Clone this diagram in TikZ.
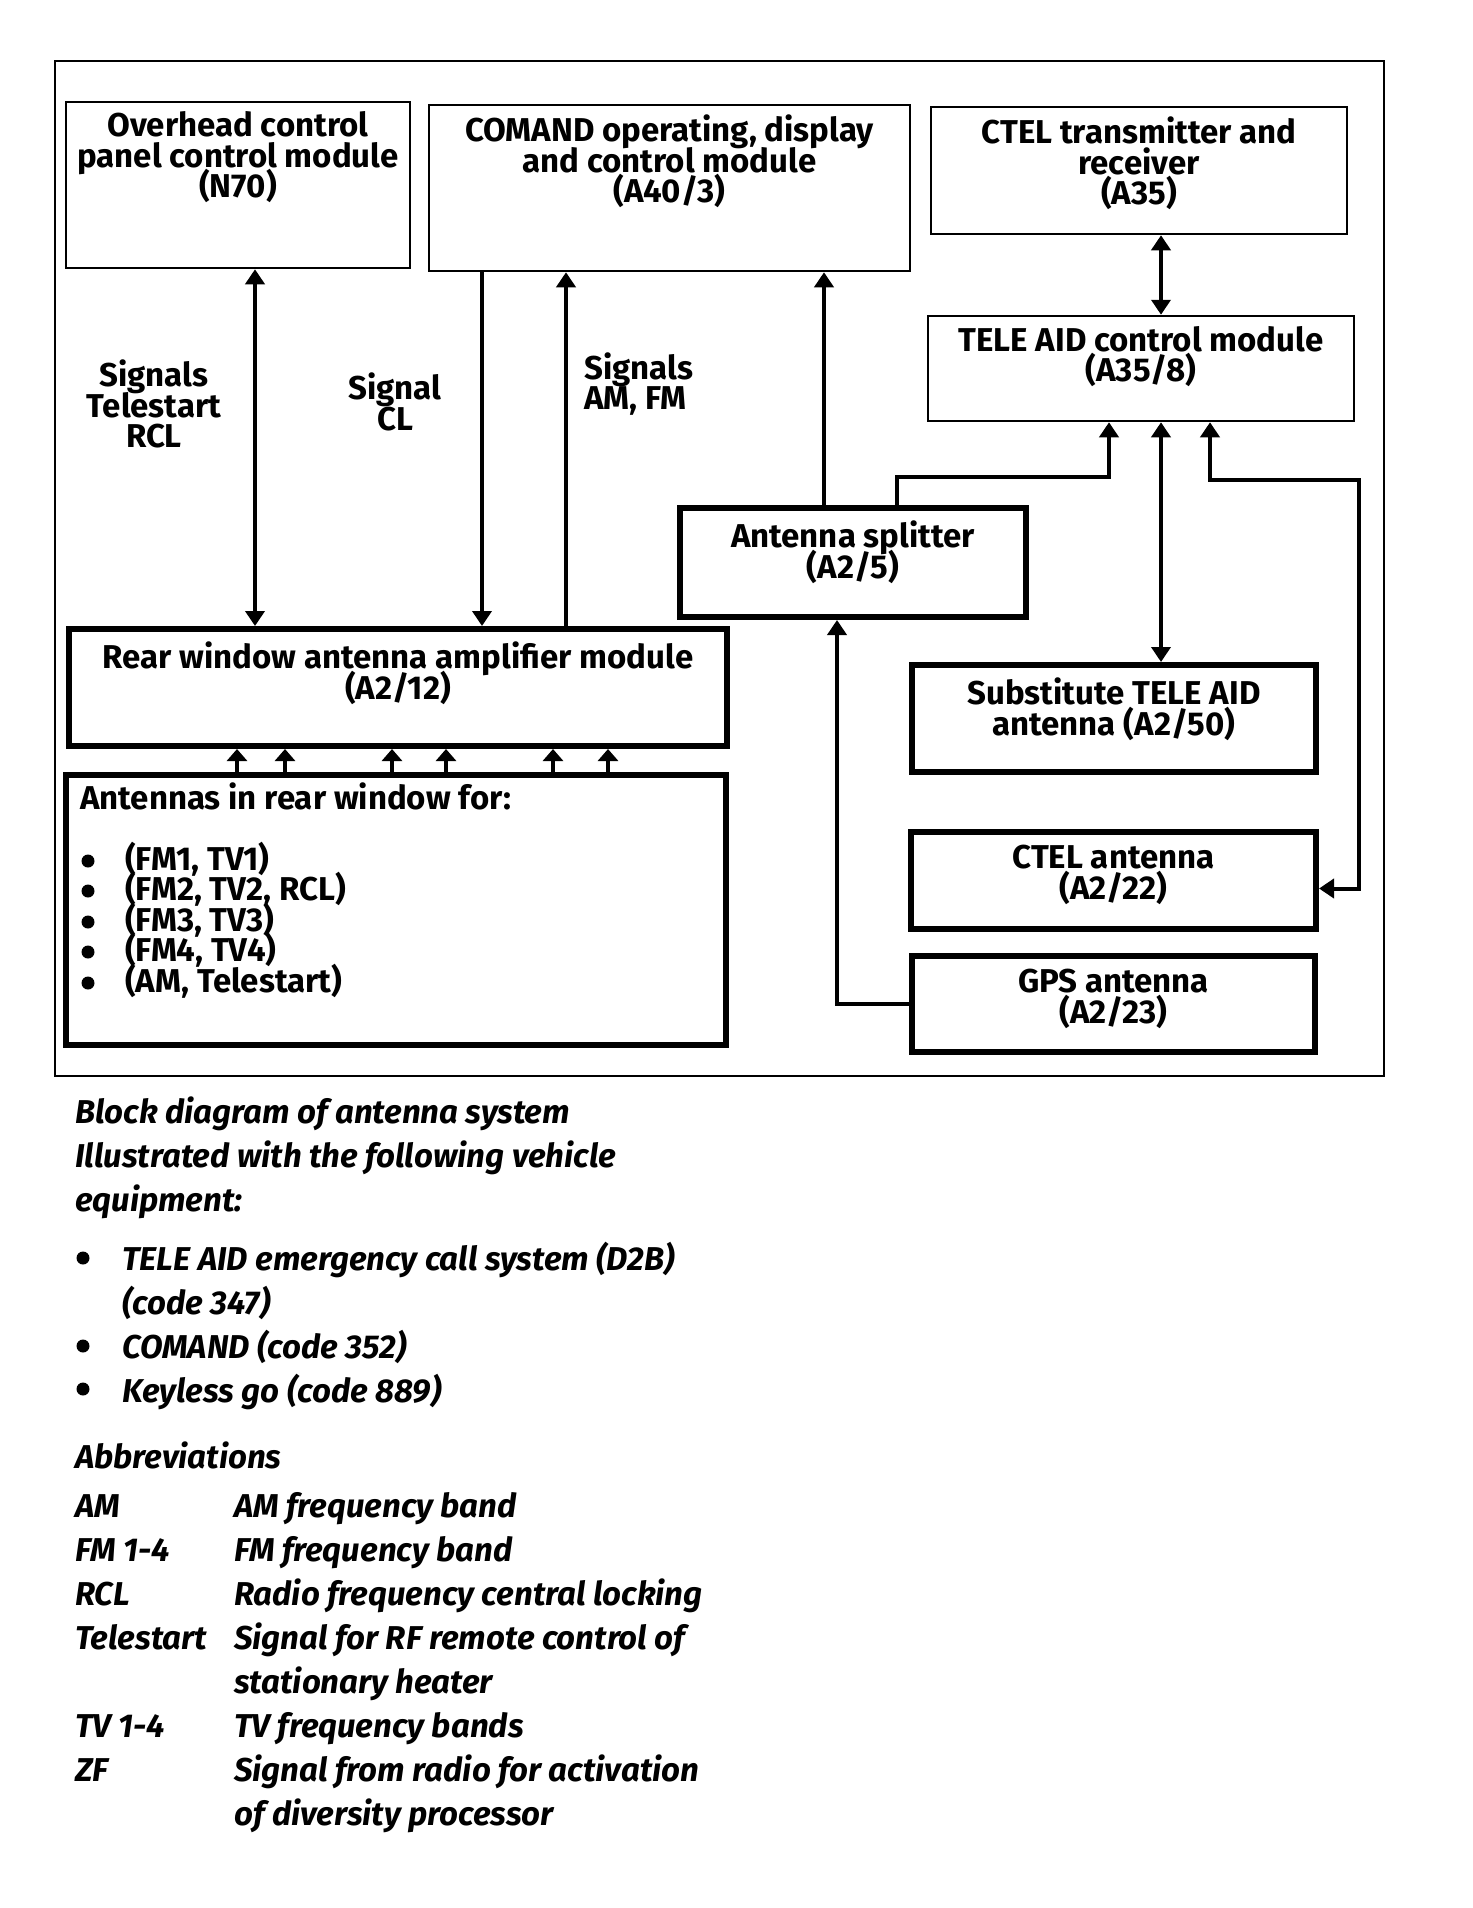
\documentclass[tikz,border=0pt]{standalone}
\usepackage{fontspec}
\setmainfont{Fira Sans}
\usetikzlibrary{arrows.meta, positioning, calc}

\newcommand{\boxfont}{\fontsize{33}{30.5}\selectfont\bfseries\lineskiplimit=-\maxdimen}
\newcommand{\capfont}{\fontsize{33}{44}\selectfont\bfseries\itshape}

\begin{document}
\begin{tikzpicture}[
  x=1pt, y=-1pt,
  >={Triangle[length=15pt, width=19pt]},
  blk/.style={draw, line width=2.5pt, inner sep=0pt},
  thk/.style={blk, line width=6pt},
  lbl/.style={anchor=north, yshift=-11pt, align=center, font=\boxfont, inner sep=0pt},
  tlbl/.style={lbl, yshift=-5pt},
  sig/.style={line width=4pt},
  sml/.style={line width=4pt, -{Triangle[length=12pt, width=20pt]}},
  sigtxt/.style={font=\boxfont, align=center, inner sep=0pt},
  captxt/.style={font=\capfont, anchor=north west, align=left, inner sep=0pt},
  dot/.style={fill=black},
]

% Page size
\useasboundingbox (0,0) rectangle (1472,1908);

% Outer frame
\draw[line width=2pt] (55,61) rectangle (1384,1076);

% --- Upper row of modules ---
\node[blk, minimum width=344pt, minimum height=166pt,
  label={[lbl]north:{Overhead control\\panel control module\\(N70)}}] (n70) at (238,185) {};
\node[blk, minimum width=481pt, minimum height=166pt,
  label={[lbl]north:{COMAND operating, display\\and control module\\(A40/3)}}] (comand) at (669.5,188) {};
\node[blk, minimum width=416pt, minimum height=127pt,
  label={[lbl]north:{CTEL transmitter and\\receiver\\(A35)}}] (ctel) at (1139,170.5) {};
\node[blk, minimum width=426pt, minimum height=105pt,
  label={[lbl]north:{TELE AID control module\\(A35/8)}}] (teleaid) at (1141,368.5) {};

% --- Antenna side ---
\node[thk, minimum width=346pt, minimum height=109pt,
  label={[tlbl]north:{Antenna splitter\\(A2/5)}}] (splitter) at (853,562.5) {};
\node[thk, minimum width=658pt, minimum height=117pt,
  label={[tlbl]north:{Rear window antenna amplifier module\\(A2/12)}}] (ampmod) at (398,687.5) {};
\node[thk, minimum width=660pt, minimum height=270pt,
  label={[lbl, anchor=north west, align=left, xshift=17pt]north west:{Antennas in rear window for:\\[30pt]
    \hspace*{45pt}(FM1, TV1)\\
    \hspace*{45pt}(FM2, TV2, RCL)\\
    \hspace*{45pt}(FM3, TV3)\\
    \hspace*{45pt}(FM4, TV4)\\
    \hspace*{45pt}(AM, Telestart)}}] (antwin) at (396,910) {};
\node[thk, minimum width=404pt, minimum height=107pt,
  label={[tlbl]north:{Substitute TELE AID\\antenna (A2/50)}}] (subst) at (1114,718.5) {};
\node[thk, minimum width=405pt, minimum height=97pt,
  label={[tlbl]north:{CTEL antenna\\(A2/22)}}] (ctelant) at (1113.5,880.5) {};
\node[thk, minimum width=403pt, minimum height=96pt,
  label={[tlbl]north:{GPS antenna\\(A2/23)}}] (gpsant) at (1113.5,1004) {};

% List bullets in the antenna box
\fill[dot] (88,861) circle (6.5);
\fill[dot] (88,891) circle (6.5);
\fill[dot] (88,922) circle (6.5);
\fill[dot] (88,952) circle (6.5);
\fill[dot] (88,983) circle (6.5);

% Connector positions
\coordinate (xrcl) at (255,0);
\coordinate (xcl) at (482,0);
\coordinate (xamfm) at (566,0);
\coordinate (xspl) at (824,0);
\coordinate (xsplb) at (897,0);
\coordinate (kspl) at (1109,477);
\coordinate (xsub) at (1161,0);
\coordinate (xcan) at (1210,0);
\coordinate (kcan) at (1359,480);
\coordinate (xgps) at (837,0);

% --- Signal lines ---
\draw[sig, <->] (n70.south -| xrcl) -- (ampmod.north -| xrcl);
\draw[sig, ->] (comand.south -| xcl) -- (ampmod.north -| xcl);
\draw[sig, ->] (ampmod.north -| xamfm) -- (comand.south -| xamfm);
\draw[sig, ->] (splitter.north -| xspl) -- (comand.south -| xspl);
\draw[sig, <->] (ctel.south -| xsub) -- (teleaid.north -| xsub);
\draw[sig, <->] (teleaid.south -| xsub) -- (subst.north -| xsub);
\draw[sig, ->] (splitter.north -| xsplb) |- (kspl) -- (teleaid.south -| kspl);
\draw[sig, <->] (teleaid.south -| xcan) |- (kcan) |- ($(ctelant.east)+(0,8)$);
\draw[sig, ->] (gpsant.west) -| (splitter.south -| xgps);

% --- Rear window antennas to amplifier ---
\draw[sml] (antwin.north -| 237,0) -- (ampmod.south -| 237,0);
\draw[sml] (antwin.north -| 285,0) -- (ampmod.south -| 285,0);
\draw[sml] (antwin.north -| 392,0) -- (ampmod.south -| 392,0);
\draw[sml] (antwin.north -| 446,0) -- (ampmod.south -| 446,0);
\draw[sml] (antwin.north -| 553,0) -- (ampmod.south -| 553,0);
\draw[sml] (antwin.north -| 608,0) -- (ampmod.south -| 608,0);

% --- Signal labels ---
\node[sigtxt] (lbrcl) at (154,404) {Signals\\Telestart\\RCL};
\node[sigtxt] (lbcl) at (395,402) {Signal\\CL};
\node[sigtxt, align=left, anchor=west] (lbamfm) at (584,384) {Signals\\AM, FM};

% --- Caption ---
\node[captxt] (capttl) at (75,1097)
  {Block diagram of antenna system\\Illustrated with the following vehicle\\equipment:};
\fill[dot] (83,1258) circle (6.5);
\fill[dot] (83,1346) circle (6.5);
\fill[dot] (83,1389) circle (6.5);
\node[captxt] (capeq) at (75,1239)
  {\begin{tabular}{@{}p{47pt}@{}l@{}}
   & TELE AID emergency call system (D2B)\\
   & (code 347)\\
   & COMAND (code 352)\\
   & Keyless go (code 889)
   \end{tabular}};
\node[captxt] (capabb) at (75,1442) {Abbreviations};
\node[captxt] (captab) at (75,1486)
  {\begin{tabular}{@{}p{159pt}@{}l@{}}
   AM & AM frequency band\\
   FM 1-4 & FM frequency band\\
   RCL & Radio frequency central locking\\
   Telestart & Signal for RF remote control of\\
             & stationary heater\\
   TV 1-4 & TV frequency bands\\
   ZF & Signal from radio for activation\\
      & of diversity processor
   \end{tabular}};

\end{tikzpicture}
\end{document}
